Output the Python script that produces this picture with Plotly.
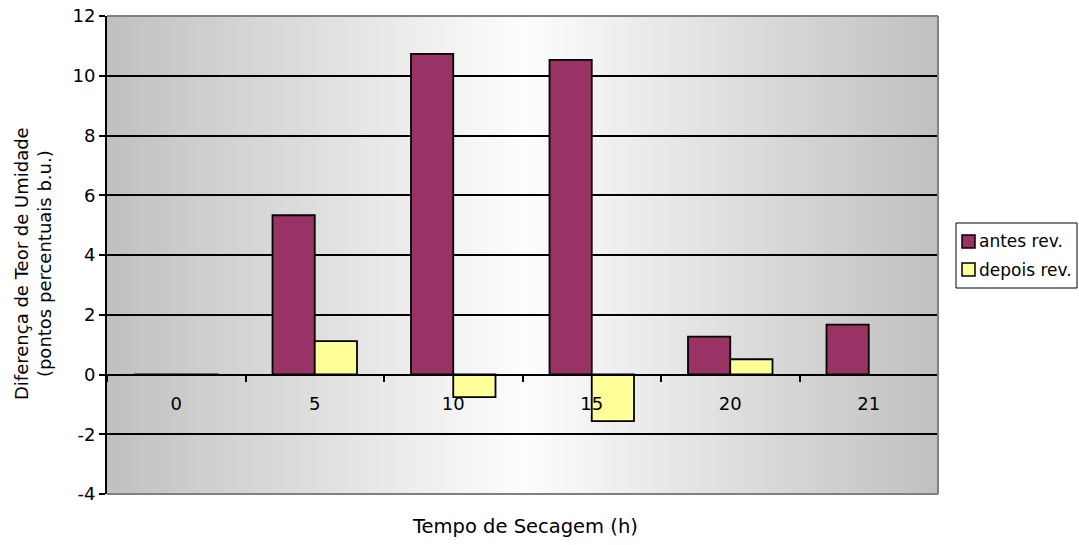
import plotly.graph_objects as go

# ---- data ----
categories = ["0", "5", "10", "15", "20", "21"]
antes_rev = [0, 5.33, 10.73, 10.53, 1.27, 1.67]
depois_rev = [0, 1.12, -0.76, -1.56, 0.51, None]
series_names = ["antes rev.", "depois rev."]
y_tick_vals = [-4, -2, 0, 2, 4, 6, 8, 10, 12]
y_tick_text = ["-4", "-2", "0", "2", "4", "6", "8", "10", "12"]
x_title = "Tempo de Secagem (h)"
y_title = "Diferença de Teor de Umidade<br>(pontos percentuais b.u.)"

COL_A = "#993366"
COL_D = "#FFFF99"
FONT = "DejaVu Sans"

W, H = 1079, 545
ML, MR, MT, MB = 107, 141, 16, 51
PW = W - ML - MR
PH = H - MT - MB


def px_x(p):
    return (p - ML) / PW


def px_y(p):
    return (H - MB - p) / PH


fig = go.Figure()
fig.add_trace(go.Bar(x=categories, y=antes_rev, name=series_names[0],
                     marker=dict(color=COL_A, line=dict(color="black", width=1.8))))
fig.add_trace(go.Bar(x=categories, y=depois_rev, name=series_names[1],
                     marker=dict(color=COL_D, line=dict(color="black", width=1.8))))

shapes = []
# horizontal gradient background (gray -> white -> gray)
N = 140
for i in range(N):
    t = (i + 0.5) / N
    v = int(round(192 + (253 - 192) * (1 - abs(t - 0.5) * 2)))
    c = f"rgb({v},{v},{v})"
    shapes.append(dict(type="rect", xref="paper", yref="paper",
                       x0=i / N, x1=(i + 1) / N + 0.001, y0=0, y1=1,
                       fillcolor=c, line=dict(width=0), layer="below"))
# plot border (top, right, bottom)
for (x0, y0, x1, y1) in [(0, 1, 1, 1), (1, 0, 1, 1), (0, 0, 1, 0)]:
    shapes.append(dict(type="line", xref="paper", yref="paper",
                       x0=x0, y0=y0, x1=x1, y1=y1,
                       line=dict(color="#808080", width=2), layer="above"))

# manual legend
shapes.append(dict(type="rect", xref="paper", yref="paper",
                   x0=px_x(956), x1=px_x(1077), y0=px_y(288), y1=px_y(223),
                   fillcolor="white", line=dict(color="black", width=1)))
shapes.append(dict(type="rect", xref="paper", yref="paper",
                   x0=px_x(962), x1=px_x(975), y0=px_y(248), y1=px_y(235),
                   fillcolor=COL_A, line=dict(color="black", width=1.5)))
shapes.append(dict(type="rect", xref="paper", yref="paper",
                   x0=px_x(962), x1=px_x(975), y0=px_y(276), y1=px_y(263),
                   fillcolor=COL_D, line=dict(color="black", width=1.5)))

annotations = [
    dict(text=series_names[0], xref="paper", yref="paper", x=px_x(977), y=px_y(241.5),
         xanchor="left", yanchor="middle", showarrow=False,
         font=dict(family=FONT, size=17, color="black")),
    dict(text=series_names[1], xref="paper", yref="paper", x=px_x(977), y=px_y(270),
         xanchor="left", yanchor="middle", showarrow=False,
         font=dict(family=FONT, size=17, color="black")),
    dict(text=x_title, xref="paper", yref="paper", x=px_x(525), y=px_y(526),
         xanchor="center", yanchor="middle", showarrow=False,
         font=dict(family=FONT, size=19.5, color="black")),
    dict(text=y_title, xref="paper", yref="paper", x=px_x(33), y=px_y(264),
         xanchor="center", yanchor="middle", showarrow=False, textangle=-90,
         font=dict(family=FONT, size=18, color="black")),
]

fig.update_layout(
    width=W, height=H,
    margin=dict(l=ML, r=MR, t=MT, b=MB, autoexpand=False),
    paper_bgcolor="white", plot_bgcolor="white",
    barmode="group", bargap=0.39, bargroupgap=0,
    showlegend=False,
    font=dict(family=FONT, size=18, color="black"),
    shapes=shapes, annotations=annotations,
    xaxis=dict(type="category", categoryorder="array", categoryarray=categories,
               range=[-0.5, 5.5], anchor="free", position=0.25,
               showline=True, linecolor="black", linewidth=2,
               ticks="outside", tickson="boundaries", ticklen=6, tickwidth=1.5,
               tickcolor="black", ticklabelstandoff=13, showgrid=False,
               layer="above traces", tickfont=dict(family=FONT, size=18)),
    yaxis=dict(range=[-4, 12], tickvals=y_tick_vals, ticktext=y_tick_text,
               showgrid=True, gridcolor="black", gridwidth=1.6,
               zeroline=True, zerolinecolor="black", zerolinewidth=2,
               showline=True, linecolor="black", linewidth=2,
               ticks="outside", ticklen=6, tickwidth=1.5, tickcolor="black",
               tickfont=dict(family=FONT, size=18)),
)

fig.write_html("out.html",
               config={"displayModeBar": False},
               post_script="document.body.style.margin='0';document.body.style.overflow='hidden';")
